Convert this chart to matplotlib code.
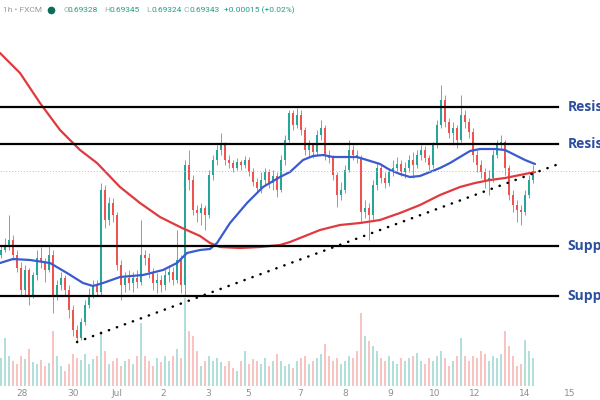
import matplotlib
matplotlib.use("Agg")
import matplotlib.pyplot as plt
from matplotlib.lines import Line2D

# hourly-ish candles, left to right
opens = [0.6898, 0.69, 0.6902, 0.6904, 0.6898, 0.68928, 0.6884, 0.6892, 0.6882, 0.689,
         0.68968, 0.68952, 0.6892, 0.6898, 0.6882, 0.6886, 0.68888, 0.6884, 0.6876, 0.6868,
         0.68648, 0.68712, 0.6878, 0.6882, 0.6886, 0.68832, 0.6924, 0.6912, 0.69188, 0.6914,
         0.6894, 0.6886, 0.68888, 0.68868, 0.68888, 0.68872, 0.6898, 0.68968, 0.68912, 0.68868,
         0.6888, 0.6886, 0.689, 0.68912, 0.6888, 0.6896, 0.6886, 0.6934, 0.6928, 0.6916,
         0.69148, 0.69168, 0.6914, 0.693, 0.6936, 0.694, 0.6942, 0.6936, 0.69348, 0.69328,
         0.69352, 0.6934, 0.6936, 0.69312, 0.69272, 0.69248, 0.6928, 0.69312, 0.69268, 0.69296,
         0.6924, 0.6936, 0.6944, 0.69548, 0.695, 0.6954, 0.6948, 0.694, 0.6942, 0.69392,
         0.6946, 0.69488, 0.6938, 0.69368, 0.693, 0.6922, 0.6924, 0.6932, 0.694, 0.6938,
         0.69368, 0.69152, 0.69168, 0.6914, 0.6926, 0.69328, 0.69288, 0.69268, 0.69312, 0.69328,
         0.69344, 0.69312, 0.69328, 0.6936, 0.6934, 0.6938, 0.694, 0.69368, 0.6934, 0.6942,
         0.695, 0.696, 0.69512, 0.69468, 0.69488, 0.6944, 0.6954, 0.69512, 0.69472, 0.6938,
         0.6934, 0.69312, 0.6928, 0.69288, 0.6938, 0.6942, 0.69432, 0.69328, 0.6922, 0.6918,
         0.6916, 0.69152, 0.6922, 0.6928]
highs = [0.6902, 0.69048, 0.6914, 0.6906, 0.69, 0.68952, 0.6894, 0.68928, 0.68912, 0.69,
         0.69012, 0.68968, 0.6902, 0.69, 0.6888, 0.68912, 0.689, 0.6886, 0.6878, 0.687,
         0.68728, 0.688, 0.68848, 0.6888, 0.6888, 0.69268, 0.6926, 0.69212, 0.69208, 0.69152,
         0.6896, 0.68912, 0.6892, 0.68912, 0.6892, 0.6912, 0.69, 0.68988, 0.68928, 0.68908,
         0.689, 0.68928, 0.6894, 0.68932, 0.6908, 0.6898, 0.6936, 0.694, 0.693, 0.6918,
         0.69188, 0.6918, 0.6932, 0.6938, 0.6942, 0.69468, 0.69432, 0.6938, 0.6936, 0.69368,
         0.6936, 0.69376, 0.69372, 0.69328, 0.69288, 0.69312, 0.69328, 0.69324, 0.6932, 0.69312,
         0.6938, 0.6946, 0.6956, 0.6956, 0.69568, 0.6956, 0.69492, 0.6944, 0.69428, 0.6948,
         0.6952, 0.695, 0.694, 0.6938, 0.69312, 0.69272, 0.6934, 0.6944, 0.6942, 0.694,
         0.6938, 0.692, 0.69188, 0.6928, 0.69348, 0.6934, 0.69312, 0.69328, 0.6936, 0.69372,
         0.6936, 0.69352, 0.6938, 0.69392, 0.694, 0.6942, 0.69416, 0.6938, 0.69432, 0.6952,
         0.6966, 0.6962, 0.69528, 0.69512, 0.695, 0.6962, 0.6956, 0.69528, 0.69488, 0.694,
         0.6936, 0.69328, 0.6932, 0.694, 0.6944, 0.6946, 0.6944, 0.6934, 0.6924, 0.692,
         0.6918, 0.6924, 0.693, 0.6934]
lows = [0.68968, 0.68992, 0.69, 0.6896, 0.68912, 0.6882, 0.6882, 0.6878, 0.68808, 0.6888,
        0.68928, 0.68872, 0.68912, 0.68748, 0.688, 0.6884, 0.6882, 0.68728, 0.68656, 0.68628,
        0.6864, 0.687, 0.68768, 0.68808, 0.68816, 0.6882, 0.69088, 0.691, 0.69112, 0.6892,
        0.688, 0.68832, 0.6884, 0.68832, 0.68848, 0.6886, 0.6894, 0.68888, 0.6884, 0.68828,
        0.68832, 0.6884, 0.68872, 0.6886, 0.68868, 0.68828, 0.6882, 0.6924, 0.6914, 0.69112,
        0.691, 0.6908, 0.69128, 0.6928, 0.6934, 0.6938, 0.6934, 0.69328, 0.69312, 0.6932,
        0.6932, 0.69328, 0.69296, 0.69256, 0.69232, 0.69228, 0.6926, 0.69248, 0.6924, 0.69212,
        0.69232, 0.6934, 0.69432, 0.6948, 0.69488, 0.6946, 0.6938, 0.69372, 0.69368, 0.6938,
        0.6944, 0.6936, 0.69348, 0.6928, 0.69172, 0.692, 0.69228, 0.69312, 0.6936, 0.69348,
        0.69108, 0.69128, 0.6904, 0.6912, 0.6924, 0.69268, 0.69248, 0.69256, 0.69296, 0.69312,
        0.69296, 0.69288, 0.69312, 0.69288, 0.69328, 0.6936, 0.69352, 0.6932, 0.69328, 0.69408,
        0.69488, 0.69492, 0.69448, 0.6942, 0.69408, 0.69432, 0.69488, 0.69448, 0.69352, 0.69312,
        0.69288, 0.69248, 0.6922, 0.69272, 0.69368, 0.694, 0.693, 0.692, 0.69152, 0.69112,
        0.691, 0.6914, 0.69208, 0.69268]
closes = [0.69, 0.6902, 0.6904, 0.6898, 0.68928, 0.6884, 0.6892, 0.6882, 0.689, 0.68968,
          0.68952, 0.6892, 0.6898, 0.6882, 0.6886, 0.68888, 0.6884, 0.6876, 0.6868, 0.68648,
          0.68712, 0.6878, 0.6882, 0.6886, 0.68832, 0.6924, 0.6912, 0.69188, 0.6914, 0.6894,
          0.6886, 0.68888, 0.68868, 0.68888, 0.68872, 0.6898, 0.68968, 0.68912, 0.68868, 0.6888,
          0.6886, 0.689, 0.68912, 0.6888, 0.6896, 0.6886, 0.6934, 0.6928, 0.6916, 0.69148,
          0.69168, 0.6914, 0.693, 0.6936, 0.694, 0.6942, 0.6936, 0.69348, 0.69328, 0.69352,
          0.6934, 0.6936, 0.69312, 0.69272, 0.69248, 0.6928, 0.69312, 0.69268, 0.69296, 0.6924,
          0.6936, 0.6944, 0.69548, 0.695, 0.6954, 0.6948, 0.694, 0.6942, 0.69392, 0.6946,
          0.69488, 0.6938, 0.69368, 0.693, 0.6922, 0.6924, 0.6932, 0.694, 0.6938, 0.69368,
          0.69152, 0.69168, 0.6914, 0.6926, 0.69328, 0.69288, 0.69268, 0.69312, 0.69328, 0.69344,
          0.69312, 0.69328, 0.6936, 0.6934, 0.6938, 0.694, 0.69368, 0.6934, 0.6942, 0.695,
          0.696, 0.69512, 0.69468, 0.69488, 0.6944, 0.6954, 0.69512, 0.69472, 0.6938, 0.6934,
          0.69312, 0.6928, 0.69288, 0.6938, 0.6942, 0.69432, 0.69328, 0.6922, 0.6918, 0.6916,
          0.69152, 0.6922, 0.6928, 0.69316]
volumes = [280, 480, 300, 250, 220, 300, 270, 370, 240, 220,
           260, 200, 230, 550, 300, 200, 150, 220, 320, 280,
           260, 320, 220, 270, 300, 550, 350, 220, 250, 280,
           200, 250, 270, 220, 300, 630, 300, 250, 200, 280,
           240, 300, 250, 300, 370, 280, 880, 550, 500, 350,
           200, 250, 300, 250, 280, 240, 200, 250, 180, 150,
           250, 350, 220, 270, 250, 220, 280, 200, 250, 320,
           250, 200, 220, 180, 250, 280, 300, 220, 250, 280,
           320, 420, 300, 250, 280, 220, 250, 300, 280, 350,
           730, 500, 450, 400, 350, 280, 250, 300, 250, 220,
           280, 250, 280, 300, 330, 250, 220, 280, 250, 300,
           350, 280, 200, 250, 300, 480, 300, 250, 300, 280,
           350, 320, 250, 300, 280, 320, 550, 400, 300, 200,
           220, 460, 350, 280]

# moving averages, sampled along the candle index
ma_slow_x = [-0.25, 4.75, 9.75, 14.75, 19.75, 24, 29.75, 34.75, 39.75, 44.75, 49.75, 52.25,
             54.75, 59.75, 64.75, 69.75, 72.25, 74.75, 79.75, 84.75, 89.75, 94.75, 99.75,
             104.75, 109.75, 114.75, 118.5, 122.25, 126, 129.75, 133.5]
ma_slow_y = [0.69788, 0.69708, 0.69588, 0.6948, 0.694, 0.69348, 0.69252, 0.69188, 0.69132,
             0.69092, 0.69056, 0.69028, 0.69012, 0.69008, 0.69012, 0.6902, 0.69032, 0.69048,
             0.6908, 0.691, 0.69108, 0.6912, 0.69148, 0.6918, 0.6922, 0.69252, 0.69268,
             0.6928, 0.69288, 0.693, 0.69312]
ma_fast_x = [-0.25, 3, 7.25, 12.25, 16.5, 20.5, 23, 25.5, 29.75, 35.5, 40.5, 44, 46.5, 49.75,
             52.25, 54, 57.25, 61.5, 65.5, 69.75, 72.25, 75.5, 78, 80.5, 83, 86.5, 89, 91.5,
             94.75, 97.25, 99.75, 102.25, 104.75, 109.75, 112.25, 114.75, 117.25, 119.75,
             123.5, 126, 128.5, 131, 133.5]
ma_fast_y = [0.68948, 0.68964, 0.6896, 0.68948, 0.68908, 0.68868, 0.68856, 0.68868, 0.68892,
             0.689, 0.6892, 0.68948, 0.68988, 0.69, 0.69004, 0.69028, 0.69108, 0.69188,
             0.69252, 0.69292, 0.69312, 0.6936, 0.69376, 0.6938, 0.69372, 0.69372, 0.69372,
             0.6936, 0.69344, 0.6932, 0.69304, 0.69292, 0.69296, 0.69328, 0.69348, 0.69372,
             0.69396, 0.69404, 0.69404, 0.694, 0.6938, 0.6936, 0.69344]

levels = [0.69572, 0.69424, 0.69016, 0.68816]
level_names = ["Resistance", "Resistance", "Support", "Support"]
trend_x = [19, 138.75]
trend_y = [0.68632, 0.6934]

tick_pos = [5.25, 18, 29, 40.5, 51.75, 61.75, 74.75, 86, 97.25, 108.5, 118.5, 131, 142.25]
tick_labels = ["28", "30", "Jul", "2", "3", "5", "7", "8", "9", "10", "12", "14", "15"]

ohlc_keys = ["O", "H", "L", "C"]
ohlc_vals = ["0.69328", "0.69345", "0.69324", "0.69343"]
change_text = "+0.00015 (+0.02%)"

UP = "#26a69a"
DOWN = "#ef5350"

fig = plt.figure(figsize=(6, 4), dpi=100)
ax = fig.add_axes([0, 0.035, 1, 0.965])
axv = ax.twinx()
ax.set_zorder(axv.get_zorder() + 1)
ax.patch.set_visible(False)

n = len(closes)
idx = list(range(n))
colors = [UP if c >= o else DOWN for o, c in zip(opens, closes)]

# volume underneath
axv.bar(idx, volumes, width=0.6, color=colors, alpha=0.35, linewidth=0)
axv.set_ylim(0, 3860)

# candles
ax.vlines(idx, lows, highs, colors=colors, linewidth=0.7, alpha=0.8)
bottoms = [min(o, c) for o, c in zip(opens, closes)]
heights = [max(abs(c - o), 0.00002) for o, c in zip(opens, closes)]
ax.bar(idx, heights, bottom=bottoms, width=0.6, color=colors, linewidth=0)

ax.plot(ma_slow_x, ma_slow_y, color="#e0393e", linewidth=1.6, solid_capstyle="round")
ax.plot(ma_fast_x, ma_fast_y, color="#3a5bd0", linewidth=1.6, solid_capstyle="round")

# current price line
ax.axhline(closes[-1], color="#bdbdbd", linewidth=0.7, linestyle=(0, (1, 2)))

for lvl, name in zip(levels, level_names):
    ax.plot([-1, 139.25], [lvl, lvl], color="black", linewidth=1.6)
    ax.text(141.6, lvl, name, color="#2c4e9e", fontsize=10, fontweight="bold",
            family="Open Sans", va="center", ha="left")

ax.plot(trend_x, trend_y, color="black", linewidth=1.8,
        linestyle=(0, (0.1, 3.3)), dash_capstyle="round")

ax.set_xlim(-0.25, 149.75)
ax.set_ylim(0.68456, 0.70)
ax.set_yticks([])
axv.set_yticks([])
ax.set_xticks(tick_pos, tick_labels)
ax.tick_params(axis="x", length=0, labelsize=6.5, labelcolor="#8f8f8f", pad=2)
for a in (ax, axv):
    for s in a.spines.values():
        s.set_visible(False)

# header line
def fx(px):
    return px / 600

hy = 1 - 10 / 400
fig.text(fx(42), hy, "1h \u2022 FXCM", ha="right", va="center", fontsize=6,
         color="#9a9a9a", family="Roboto")
fig.add_artist(Line2D([fx(51)], [hy], marker="o", markersize=4.5, color="#0b6e5c",
                      transform=fig.transFigure))
key_px = [63, 104, 146, 184]
for k, v, px in zip(ohlc_keys, ohlc_vals, key_px):
    fig.text(fx(px), hy, k, ha="left", va="center", fontsize=6, color="#a8a8a8", family="Roboto")
    fig.text(fx(px + 5), hy, v, ha="left", va="center", fontsize=6, color="#1f9d87", family="Roboto")
fig.text(fx(224), hy, change_text, ha="left", va="center", fontsize=6, color="#1f9d87",
         family="Roboto")

fig.savefig("out.png", dpi=100)
